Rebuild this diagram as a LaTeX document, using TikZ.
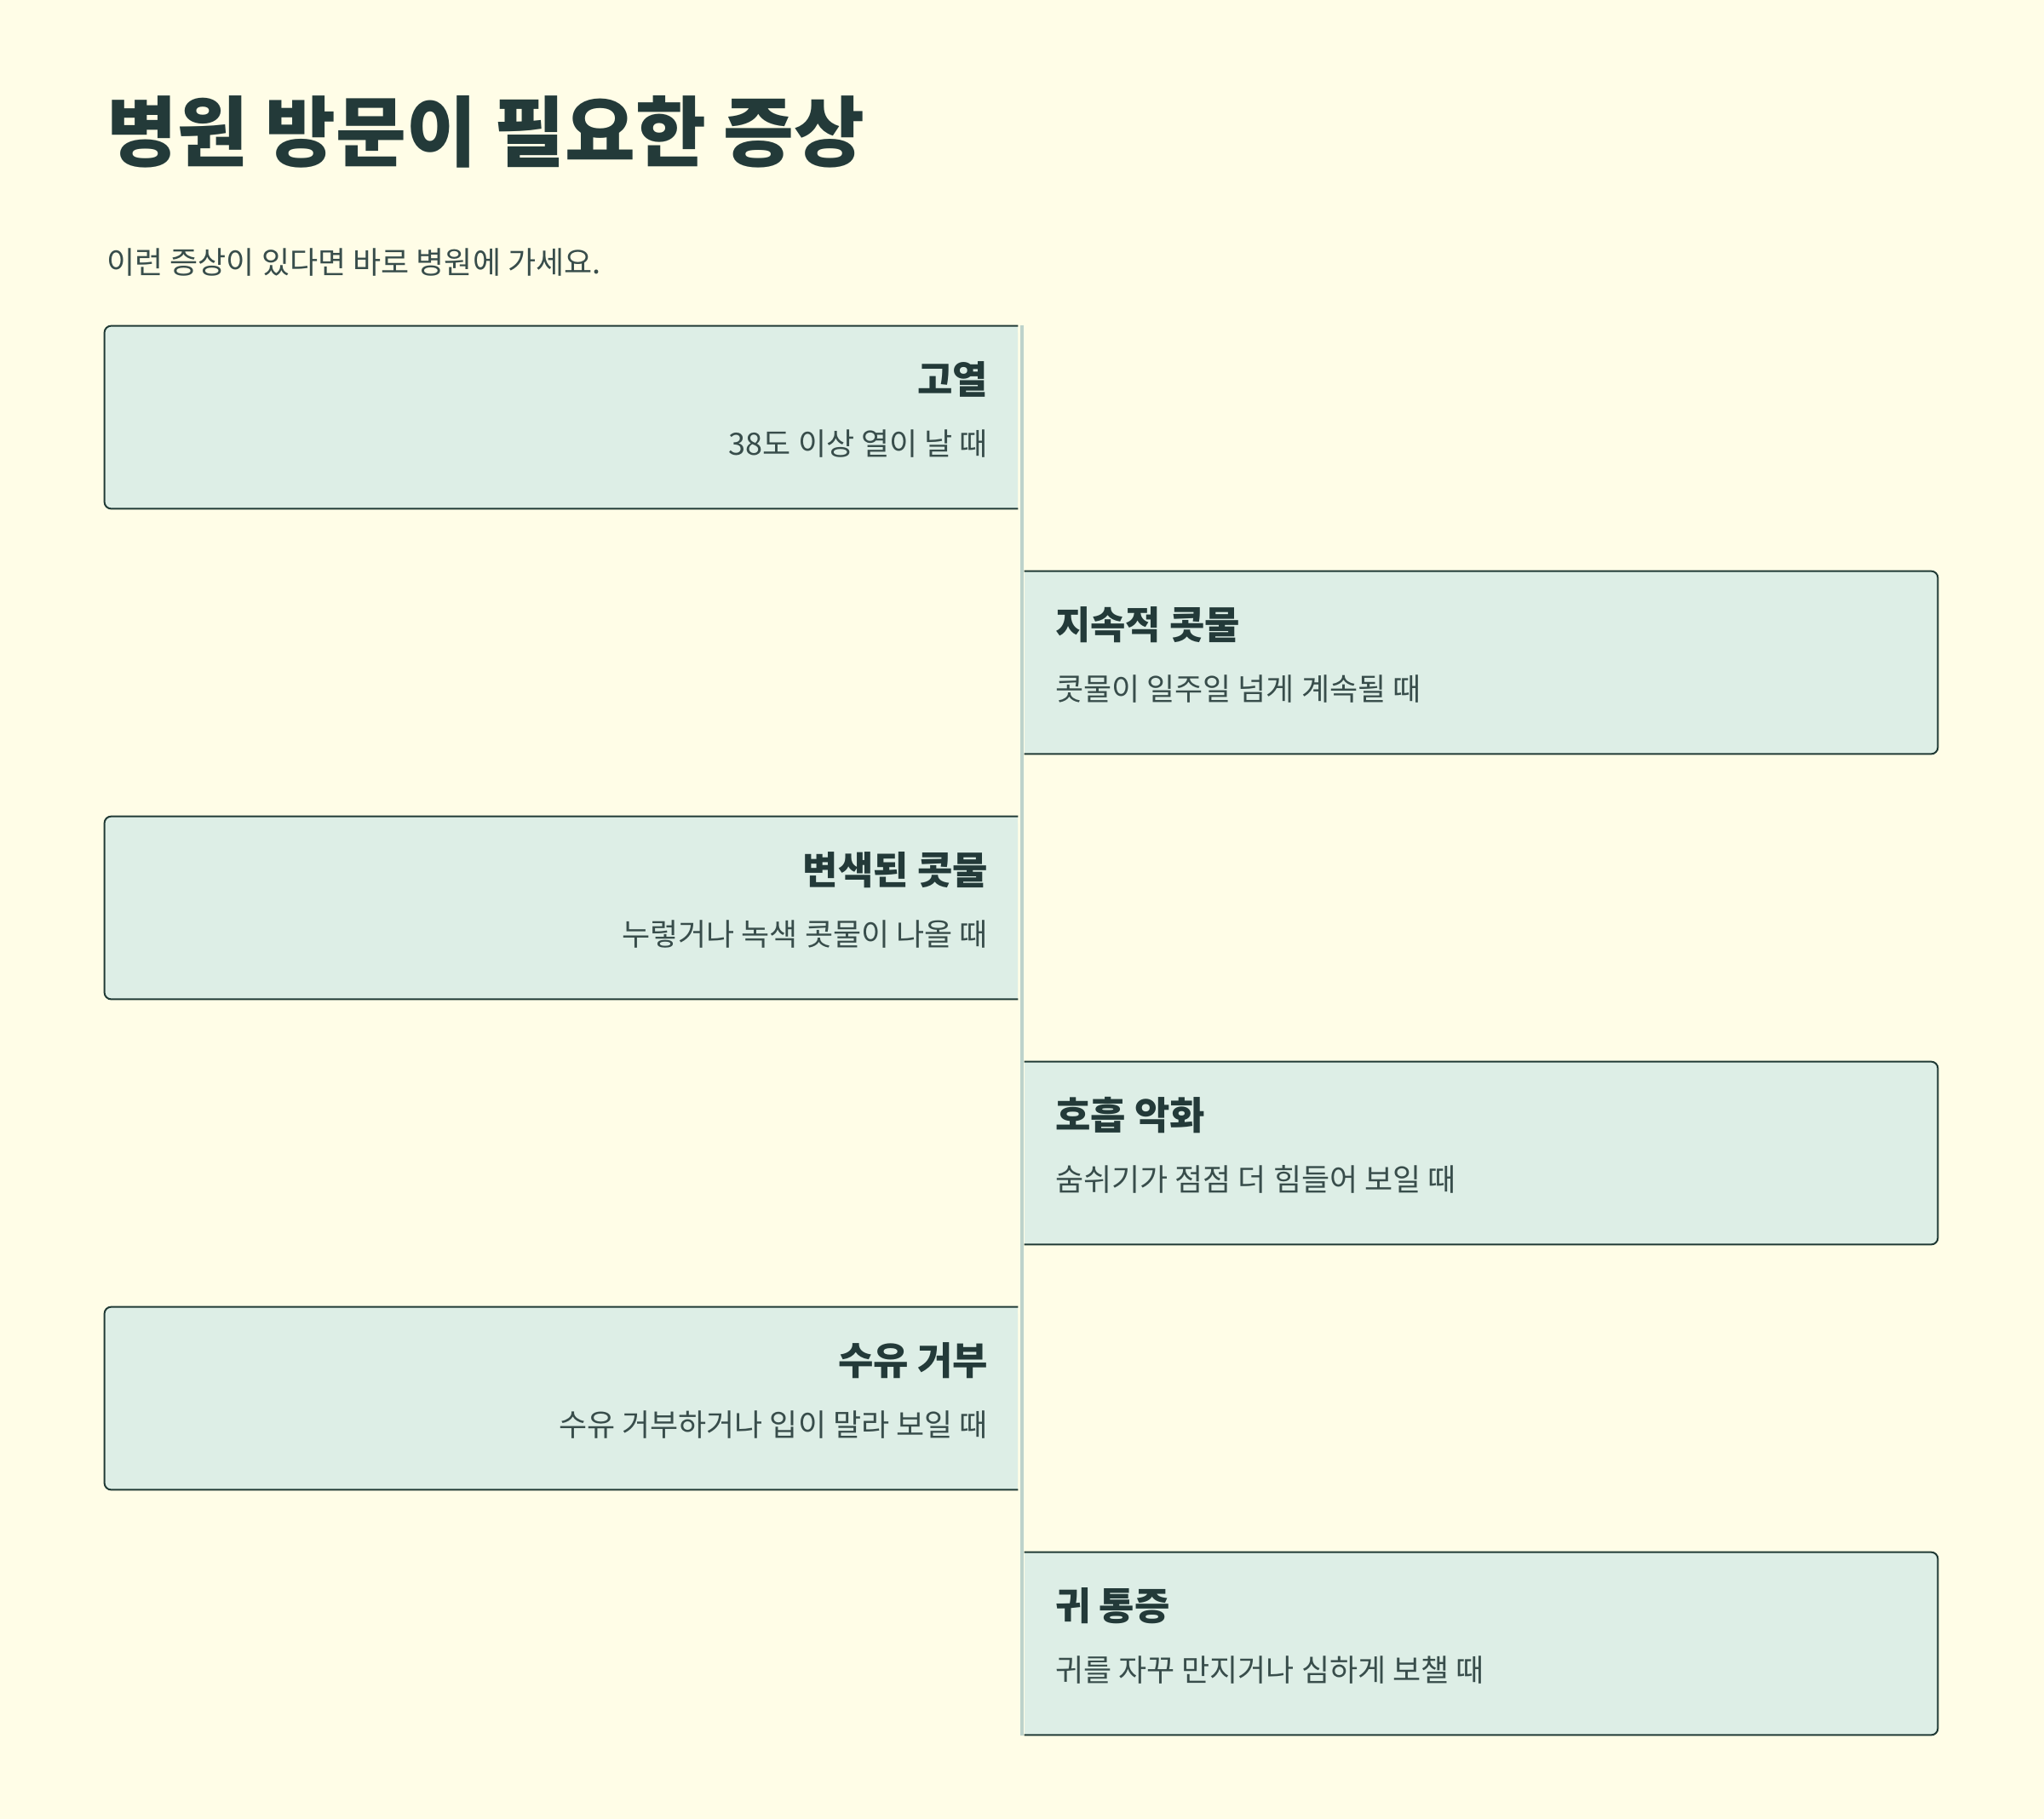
\documentclass[tikz,border=0pt]{standalone}
\usepackage{fontspec}
\usepackage{tikz}
\usetikzlibrary{positioning}
\newfontfamily\krfont{Noto Sans CJK KR}
\definecolor{pagebg}{HTML}{FFFDE7}
\definecolor{cardbg}{HTML}{DDEEE6}
\definecolor{cardline}{HTML}{213B36}
\definecolor{ink}{HTML}{233A39}
\definecolor{inksoft}{HTML}{384D4B}
\definecolor{spineline}{HTML}{BDD3CB}
\tikzset{card node/.style={rectangle, fill=cardbg, rounded corners=4pt,
    minimum width=536pt, minimum height=107pt, inner sep=0pt}}
\tikzset{card edge/.style={draw=cardline, line width=1pt, rounded corners=4pt}}
\tikzset{card head/.style={font=\krfont\bfseries\fontsize{22.5}{27}\selectfont, text=ink, inner sep=0pt}}
\tikzset{card note/.style={font=\krfont\fontsize{18}{22}\selectfont, text=inksoft, inner sep=0pt}}
\tikzset{spine/.style={draw=spineline, line width=2pt}}

\begin{document}
\begin{tikzpicture}
  [x=1pt, y=-1pt]
  \fill[pagebg] (0,0) rectangle (1200,1068);
  \useasboundingbox (0,0) rectangle (1200,1068);

  \node [anchor=base west, inner sep=0pt, text=ink,
         font=\krfont\bfseries\fontsize{45}{54}\selectfont] (title) at (62.5,94) {병원 방문이 필요한 증상};
  \node [anchor=base west, inner sep=0pt, text=inksoft,
         font=\krfont\fontsize{18}{22}\selectfont]         (lead)  at (62.5,160.5) {이런 증상이 있다면 바로 병원에 가세요.};

  \coordinate (top)    at (600,191);
  \coordinate (bottom) at (600,1019);
  \draw [spine] (top) to (bottom);

  % left column
  \node [card node] (card1) at (329.5,245) {};
  \node [card node] (card3) at (329.5,533) {};
  \node [card node] (card5) at (329.5,821) {};
  \fill [cardbg] ([xshift=-5pt]card1.north east) rectangle (card1.south east);
  \fill [cardbg] ([xshift=-5pt]card3.north east) rectangle (card3.south east);
  \fill [cardbg] ([xshift=-5pt]card5.north east) rectangle (card5.south east);
  \draw [card edge] (card1.north east) -- (card1.north west) -- (card1.south west) -- (card1.south east);
  \draw [card edge] (card3.north east) -- (card3.north west) -- (card3.south west) -- (card3.south east);
  \draw [card edge] (card5.north east) -- (card5.north west) -- (card5.south west) -- (card5.south east);
  \node [card head, anchor=base east] (head1) at ([xshift=-17.5pt,yshift=-40pt]card1.north east) {고열};
  \node [card note, anchor=base east] (note1) at ([xshift=-17.5pt,yshift=-76pt]card1.north east) {38도 이상 열이 날 때};
  \node [card head, anchor=base east] (head3) at ([xshift=-17.5pt,yshift=-40pt]card3.north east) {변색된 콧물};
  \node [card note, anchor=base east] (note3) at ([xshift=-17.5pt,yshift=-76pt]card3.north east) {누렇거나 녹색 콧물이 나올 때};
  \node [card head, anchor=base east] (head5) at ([xshift=-17.5pt,yshift=-40pt]card5.north east) {수유 거부};
  \node [card note, anchor=base east] (note5) at ([xshift=-17.5pt,yshift=-76pt]card5.north east) {수유 거부하거나 입이 말라 보일 때};

  % right column
  \node [card node] (card2) at (869.5,389) {};
  \node [card node] (card4) at (869.5,677) {};
  \node [card node] (card6) at (869.5,965) {};
  \fill [cardbg] (card2.north west) rectangle ([xshift=5pt]card2.south west);
  \fill [cardbg] (card4.north west) rectangle ([xshift=5pt]card4.south west);
  \fill [cardbg] (card6.north west) rectangle ([xshift=5pt]card6.south west);
  \draw [card edge] (card2.north west) -- (card2.north east) -- (card2.south east) -- (card2.south west);
  \draw [card edge] (card4.north west) -- (card4.north east) -- (card4.south east) -- (card4.south west);
  \draw [card edge] (card6.north west) -- (card6.north east) -- (card6.south east) -- (card6.south west);
  \node [card head, anchor=base west] (head2) at ([xshift=18pt,yshift=-40pt]card2.north west) {지속적 콧물};
  \node [card note, anchor=base west] (note2) at ([xshift=18pt,yshift=-76pt]card2.north west) {콧물이 일주일 넘게 계속될 때};
  \node [card head, anchor=base west] (head4) at ([xshift=18pt,yshift=-40pt]card4.north west) {호흡 악화};
  \node [card note, anchor=base west] (note4) at ([xshift=18pt,yshift=-76pt]card4.north west) {숨쉬기가 점점 더 힘들어 보일 때};
  \node [card head, anchor=base west] (head6) at ([xshift=18pt,yshift=-40pt]card6.north west) {귀 통증};
  \node [card note, anchor=base west] (note6) at ([xshift=18pt,yshift=-76pt]card6.north west) {귀를 자꾸 만지거나 심하게 보챌 때};
\end{tikzpicture}
\end{document}
